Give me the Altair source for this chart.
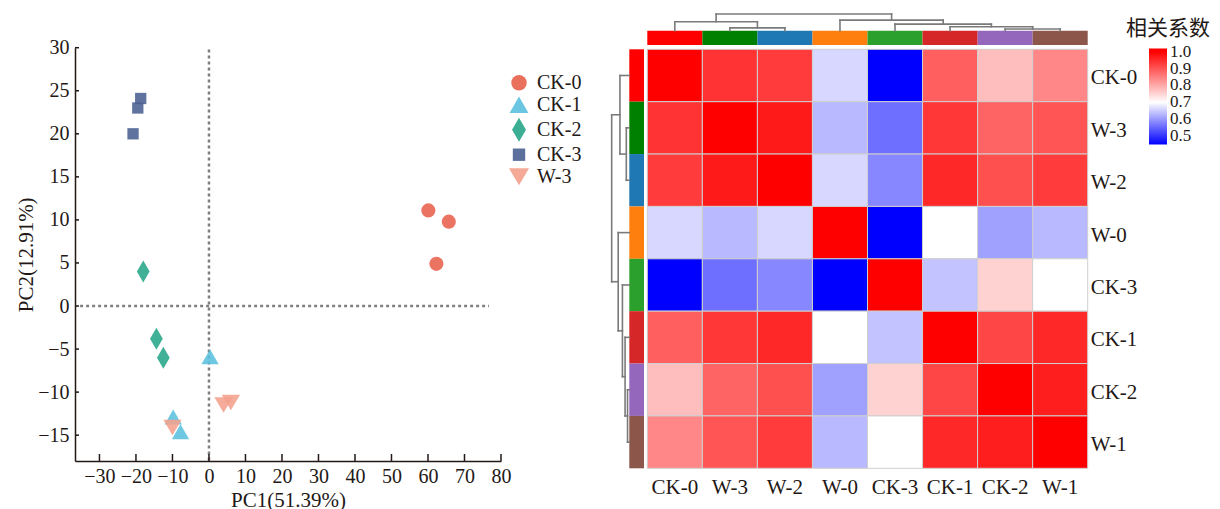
import altair as alt
import pandas as pd

# ---------------- PCA scatter data ----------------
pca_group = ["CK-0", "CK-0", "CK-0", "CK-1", "CK-1", "CK-1", "CK-2", "CK-2", "CK-2",
             "CK-3", "CK-3", "CK-3", "W-3", "W-3", "W-3"]
pca_pc1 = [60.1, 65.7, 62.3, 0.3, -9.8, -7.8, -18.0, -14.4, -12.5,
           -20.8, -19.5, -18.7, 4.0, 6.0, -10.0]
pca_pc2 = [11.1, 9.8, 4.9, -5.9, -12.9, -14.6, 4.0, -3.8, -6.0,
           20.0, 23.0, 24.1, -11.5, -11.2, -14.1]

group_names = ["CK-0", "CK-1", "CK-2", "CK-3", "W-3"]
group_colors = ["#E8604C", "#5BC0DE", "#26A588", "#4A6092", "#F4A08C"]
group_shapes = ["circle",
                "M0,-1.06L1.22,1.06L-1.22,1.06Z",
                "M0,-1.55L0.9,0L0,1.55L-0.9,0Z",
                "M-0.8,-0.8L0.8,-0.8L0.8,0.8L-0.8,0.8Z",
                "M-1.3,-1.1L1.3,-1.1L0,1.1Z"]

x_ticks = [-30, -20, -10, 0, 10, 20, 30, 40, 50, 60, 70, 80]
y_ticks = [-15, -10, -5, 0, 5, 10, 15, 20, 25, 30]
x_domain = [-36.7, 80]
y_domain = [-18, 30]

ref_v_x = [0]
ref_v_y = [29.8]
ref_v_y2 = [-18]
ref_h_y = [0]
ref_h_x = [-35.3]
ref_h_x2 = [76.7]

# ---------------- correlation heatmap data ----------------
labels = ["CK-0", "W-3", "W-2", "W-0", "CK-3", "CK-1", "CK-2", "W-1"]
r_ck0 = [1.00, 0.94, 0.93, 0.661, 0.45, 0.888, 0.777, 0.841]
r_w3 = [0.94, 1.00, 0.97, 0.631, 0.558, 0.935, 0.882, 0.90]
r_w2 = [0.93, 0.97, 1.00, 0.661, 0.582, 0.953, 0.906, 0.93]
r_w0 = [0.661, 0.631, 0.661, 1.00, 0.45, 0.70, 0.607, 0.631]
r_ck3 = [0.45, 0.558, 0.582, 0.45, 1.00, 0.641, 0.753, 0.70]
r_ck1 = [0.888, 0.935, 0.953, 0.70, 0.641, 1.00, 0.918, 0.953]
r_ck2 = [0.777, 0.882, 0.906, 0.607, 0.753, 0.918, 1.00, 0.965]
r_w1 = [0.841, 0.90, 0.93, 0.631, 0.70, 0.953, 0.965, 1.00]
annot_colors = ["#ff0000", "#008000", "#1f77b4", "#ff7f0e",
                "#2ca02c", "#d62728", "#9467bd", "#8c564b"]
legend_ticks = [0.5, 0.6, 0.7, 0.8, 0.9, 1.0]

# hierarchical clustering (leaf indices 0-7, clusters 8+), normalised heights
link_a = [1, 0, 6, 5, 4, 3, 9]
link_b = [2, 8, 7, 10, 11, 12, 13]
link_h = [0.17, 0.53, 0.10, 0.24, 0.39, 0.63, 1.00]

# ---------------- styling / layout ----------------
FONT = "Liberation Serif"
AX_COL = "#231815"
W, H = 1204, 493

sx = alt.Scale(domain=x_domain, range=[67, 493], nice=False, zero=False)
sy = alt.Scale(domain=y_domain, range=[453, 39.7], nice=False, zero=False)
n = len(labels)
hx = alt.Scale(domain=[0, n], range=[639.3, 1079.7], nice=False, zero=False)
hy = alt.Scale(domain=[0, n], range=[41.3, 460.3], nice=False, zero=False)

ax_x = alt.Axis(values=x_ticks, orient="bottom", offset=-40, title="PC1(51.39%)",
                grid=False, ticks=False, tickSize=0, domainColor=AX_COL, domainWidth=1.5,
                labelFont=FONT, labelFontSize=20, labelColor=AX_COL, labelPadding=5,
                labelFlush=False, titleFont=FONT, titleFontSize=21, titleFontWeight="normal",
                titleColor=AX_COL, titlePadding=3)
ax_y = alt.Axis(values=y_ticks, orient="left", offset=-67, title="PC2(12.91%)",
                grid=False, ticks=False, tickSize=0, domainColor=AX_COL, domainWidth=1.5,
                labelFont=FONT, labelFontSize=20, labelColor=AX_COL, labelPadding=6,
                labelFlush=False, titleFont=FONT, titleFontSize=21, titleFontWeight="normal",
                titleColor=AX_COL, titlePadding=1)

# ---------------- scatter layers ----------------
pca_df = pd.DataFrame({"group": pca_group, "pc1": pca_pc1, "pc2": pca_pc2})

vline = alt.Chart(pd.DataFrame({"x": ref_v_x, "y": ref_v_y, "y2": ref_v_y2})).mark_rule(
    color="#808080", strokeWidth=2.5, strokeDash=[3, 3]).encode(
    x=alt.X("x:Q", scale=sx, axis=ax_x), y=alt.Y("y:Q", scale=sy, axis=ax_y), y2="y2:Q")
hline = alt.Chart(pd.DataFrame({"y": ref_h_y, "x": ref_h_x, "x2": ref_h_x2})).mark_rule(
    color="#808080", strokeWidth=2.5, strokeDash=[3, 3]).encode(
    x=alt.X("x:Q", scale=sx, axis=ax_x), x2="x2:Q", y=alt.Y("y:Q", scale=sy, axis=ax_y))

leg = alt.Legend(orient="none", legendX=501, legendY=64.7, title=None, padding=0,
                 labelFont=FONT, labelFontSize=20, labelColor=AX_COL, labelOffset=8,
                 symbolSize=240, rowPadding=2, symbolOpacity=0.9, symbolStrokeWidth=0)

points = alt.Chart(pca_df).mark_point(filled=True, size=200, opacity=0.88, strokeWidth=0).encode(
    x=alt.X("pc1:Q", scale=sx, axis=ax_x),
    y=alt.Y("pc2:Q", scale=sy, axis=ax_y),
    color=alt.Color("group:N", scale=alt.Scale(domain=group_names, range=group_colors), legend=leg),
    shape=alt.Shape("group:N", scale=alt.Scale(domain=group_names, range=group_shapes), legend=leg),
)

xt = alt.Chart(pd.DataFrame({"v": x_ticks})).mark_rule(color=AX_COL, strokeWidth=1.5).encode(
    x=alt.X("v:Q", scale=sx, axis=ax_x), y=alt.value(453), y2=alt.value(446))
yt = alt.Chart(pd.DataFrame({"v": y_ticks})).mark_rule(color=AX_COL, strokeWidth=1.5).encode(
    y=alt.Y("v:Q", scale=sy, axis=ax_y), x=alt.value(67), x2=alt.value(71))

scatter = alt.layer(vline, hline, xt, yt, points)

# ---------------- heatmap layers ----------------
matrix = [r_ck0, r_w3, r_w2, r_w0, r_ck3, r_ck1, r_ck2, r_w1]
cells = []
for i, row in enumerate(matrix):
    for j, v in enumerate(row):
        cells.append({"c0": j, "c1": j + 1, "r0": i, "r1": i + 1, "val": v,
                      "row": labels[i], "col": labels[j]})
cell_df = pd.DataFrame(cells)

heat_leg = alt.Legend(orient="none", legendX=1141, legendY=40.4, title=None, padding=0,
                      direction="vertical", gradientLength=96, gradientThickness=18,
                      gradientStrokeWidth=0, values=legend_ticks,
                      format=".1f", labelFont=FONT, labelFontSize=17, labelColor=AX_COL,
                      labelOffset=3, labelOverlap=False)

cell_layer = alt.Chart(cell_df).mark_rect(stroke="#cfcfcf", strokeWidth=1).encode(
    x=alt.X("c0:Q", scale=hx, axis=None), x2="c1:Q",
    y=alt.Y("r0:Q", scale=hy, axis=None), y2="r1:Q",
    color=alt.Color("val:Q", scale=alt.Scale(domain=[0.45, 0.7, 1.0, 1.02],
                                             range=["#0000ff", "#ffffff", "#ff0000", "#ff0000"],
                                             interpolate="rgb"), legend=heat_leg),
)

# annotation colour bars
BAR_T0, BAR_T1 = -0.355, -0.082
BAR_L0, BAR_L1 = -0.327, -0.06
ann_df = pd.DataFrame({"p0": list(range(n)), "p1": [k + 1 for k in range(n)],
                       "a0": [BAR_T0] * n, "a1": [BAR_T1] * n,
                       "b0": [BAR_L0] * n, "b1": [BAR_L1] * n,
                       "c": annot_colors})
top_bar = alt.Chart(ann_df).mark_rect().encode(
    x=alt.X("p0:Q", scale=hx, axis=None), x2="p1:Q",
    y=alt.Y("a0:Q", scale=hy, axis=None), y2="a1:Q",
    fill=alt.Fill("c:N", scale=None))
left_bar = alt.Chart(ann_df).mark_rect().encode(
    x=alt.X("b0:Q", scale=hx, axis=None), x2="b1:Q",
    y=alt.Y("p0:Q", scale=hy, axis=None), y2="p1:Q",
    fill=alt.Fill("c:N", scale=None))

# dendrogram segments from the linkage
pos = {k: k + 0.5 for k in range(n)}
hgt = {k: 0.0 for k in range(n)}
segs = []
for k, (a, b, h) in enumerate(zip(link_a, link_b, link_h)):
    pa, pb, ha, hb = pos[a], pos[b], hgt[a], hgt[b]
    segs.append((pa, ha, pa, h))
    segs.append((pb, hb, pb, h))
    segs.append((pa, h, pb, h))
    pos[n + k] = (pa + pb) / 2
    hgt[n + k] = h
DK = 0.32
top_seg = pd.DataFrame({"x": [s[0] for s in segs], "x2": [s[2] for s in segs],
                        "y": [BAR_T0 - s[1] * DK for s in segs],
                        "y2": [BAR_T0 - s[3] * DK for s in segs]})
left_seg = pd.DataFrame({"y": [s[0] for s in segs], "y2": [s[2] for s in segs],
                         "x": [BAR_L0 - s[1] * DK for s in segs],
                         "x2": [BAR_L0 - s[3] * DK for s in segs]})
dendro_style = dict(color="#7a7a7a", strokeWidth=1.6, strokeCap="square")
top_dendro = alt.Chart(top_seg).mark_rule(**dendro_style).encode(
    x=alt.X("x:Q", scale=hx, axis=None), x2="x2:Q",
    y=alt.Y("y:Q", scale=hy, axis=None), y2="y2:Q")
left_dendro = alt.Chart(left_seg).mark_rule(**dendro_style).encode(
    x=alt.X("x:Q", scale=hx, axis=None), x2="x2:Q",
    y=alt.Y("y:Q", scale=hy, axis=None), y2="y2:Q")

lab_df = pd.DataFrame({"name": labels, "p": [k + 0.5 for k in range(n)], "edge": [n] * n})
col_labels = alt.Chart(lab_df).mark_text(font=FONT, fontSize=21, color=AX_COL, align="center",
                                         baseline="middle", dy=20).encode(
    x=alt.X("p:Q", scale=hx, axis=None), y=alt.Y("edge:Q", scale=hy, axis=None), text="name:N")
row_labels = alt.Chart(lab_df).mark_text(font=FONT, fontSize=21, color=AX_COL, align="left",
                                         baseline="middle", dx=3, dy=3).encode(
    x=alt.X("edge:Q", scale=hx, axis=None), y=alt.Y("p:Q", scale=hy, axis=None), text="name:N")

legend_title = alt.Chart(pd.DataFrame({"t": ["相关系数"]})).mark_text(
    font="Noto Sans CJK SC", fontSize=21, color=AX_COL, align="right", baseline="middle").encode(
    x=alt.value(1202), y=alt.value(21), text="t:N")

heat = alt.layer(cell_layer, top_bar, left_bar, top_dendro, left_dendro,
                 col_labels, row_labels, legend_title)

chart = alt.layer(scatter, heat).resolve_scale(
    x="independent", y="independent", color="independent", shape="independent"
).properties(width=W, height=H, padding=0).configure_view(stroke=None)

chart.save("out.html", embed_options={"renderer": "svg", "actions": False})
